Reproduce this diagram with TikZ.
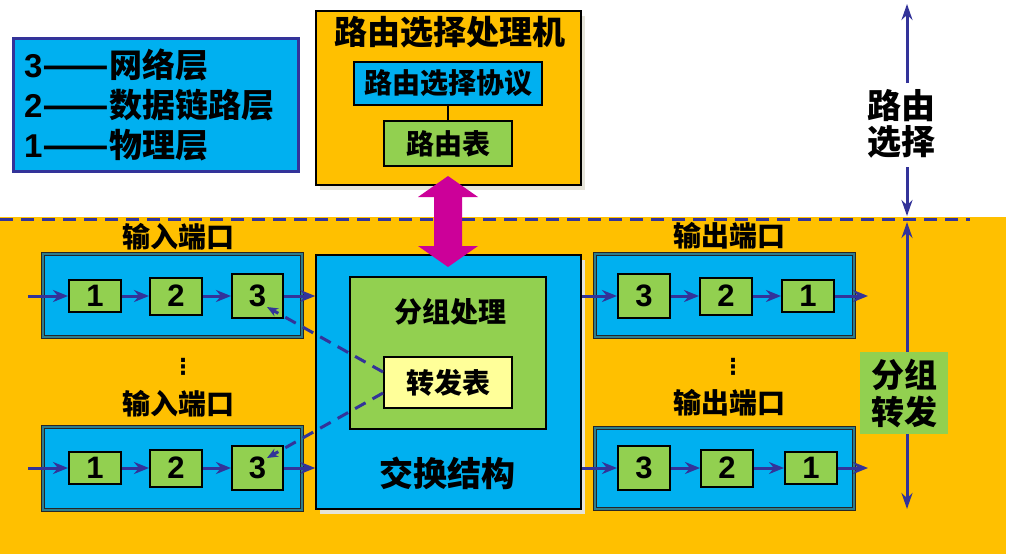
\documentclass[tikz,border=0pt]{standalone}
\usepackage{fontspec}
\usepackage{graphicx}
\setmainfont{Liberation Sans}
\newfontfamily\cjk{Noto Sans CJK SC}
\newfontfamily\dvs{DejaVu Sans}
\usetikzlibrary{arrows.meta,calc,shadows}
\definecolor{cyanb}{HTML}{00B0F0}
\definecolor{orng}{HTML}{FFC000}
\definecolor{grn}{HTML}{92D050}
\definecolor{dblue}{HTML}{333399}
\definecolor{mag}{HTML}{CC0099}
\definecolor{lyel}{HTML}{FFFF99}
\definecolor{shad}{HTML}{E6E4DA}
\definecolor{frm}{HTML}{2E7D8C}
\newcommand{\legdash}{\scalebox{1.18}[1]{\cjk ——}}
\begin{document}
\begin{tikzpicture}[x=1pt,y=-1pt,
  cjkfont/.style={font=\fontsize{#1}{#1}\selectfont\cjk\bfseries},
  lay/.style={draw=black, line width=2pt, fill=grn, inner sep=0pt,
    font=\fontsize{31}{31}\selectfont\bfseries},
  port/.style={fill=cyanb, draw=black!85, double=frm, double distance=1.6pt,
    line width=0.9pt, inner sep=0pt, minimum width=259, minimum height=83},
  flow/.style={dblue, line width=3pt, -{Stealth[length=15pt,width=12pt]}},
  vflow/.style={dblue, line width=3pt, -{Stealth[length=16pt,width=11pt]}},
  dflow/.style={dblue, line width=3pt, dash pattern=on 12pt off 8pt,
    -{Stealth[length=11pt,width=9pt]}},
  bigbox/.style={draw=black, line width=1.5pt, inner sep=0pt,
    drop shadow={shadow xshift=4pt, shadow yshift=-5pt, fill=shad, opacity=1}},
  ttl/.style={cjkfont=28, inner sep=0pt},
  dots/.style={font=\fontsize{22}{22}\selectfont\dvs\bfseries, inner sep=0pt}
]
\useasboundingbox (0,0) rectangle (1009,554);
\fill[white] (0,0) rectangle (1009,554);
% lower orange region and separator
\fill[orng] (0,217) rectangle (1006,554);
\draw[dblue, line width=3pt, dash pattern=on 13pt off 8pt] (0,219) -- (970,219);

% legend
\node[draw=dblue, line width=3pt, fill=cyanb, minimum width=285, minimum height=133, inner sep=0pt] (leg) at (155.5,104.5) {};
\node[anchor=west, align=left, inner sep=0pt, font=\fontsize{33}{40}\selectfont\bfseries] (legt) at (24,105)
  {3\legdash{\cjk 网络层}\\2\legdash{\cjk 数据链路层}\\1\legdash{\cjk 物理层}};

% routing processor
\node[bigbox, fill=orng, minimum width=265, minimum height=174] (rp) at (448.5,98) {};
\node[cjkfont=33, inner sep=0pt] (rpt) at (450,32) {路由选择处理机};
\node[draw=black, line width=2pt, fill=cyanb, minimum width=188, minimum height=43, inner sep=0pt, cjkfont=28] (proto) at (448,83.5) {路由选择协议};
\node[draw=black, line width=2pt, fill=grn, minimum width=128, minimum height=45, inner sep=0pt, cjkfont=28] (rtab) at (448,143.5) {路由表};
\draw[black, line width=2pt] (proto.south) -- (rtab.north);

% switch fabric
\node[bigbox, fill=cyanb, minimum width=265, minimum height=254] (fab) at (448.5,382) {};
\node[draw=black, line width=1.5pt, fill=grn, minimum width=196, minimum height=152, inner sep=0pt] (pp) at (448,353) {};
\node[ttl] (ppt) at (450,312) {分组处理};
\node[draw=black, line width=2pt, fill=lyel, minimum width=128, minimum height=51, inner sep=0pt, cjkfont=28] (fwd) at (448,382.5) {转发表};
\node[cjkfont=34, inner sep=0pt] (fabt) at (447,473) {交换结构};

% input ports
\node[port] (ip1) at (172.5,295.5) {};
\node[ttl] (ip1t) at (178,237) {输入端口};
\node[lay, minimum width=52, minimum height=32] (i1) at (95,296) {1};
\node[lay, minimum width=52, minimum height=37] (i2) at (176,296) {2};
\node[lay, minimum width=51, minimum height=44] (i3) at (257.5,296) {3};
\node[dots] (idots) at (183,367) {⋮};
\node[port] (ip2) at (172.5,468.5) {};
\node[ttl] (ip2t) at (178,404) {输入端口};
\node[lay, minimum width=52, minimum height=32] (j1) at (95,468) {1};
\node[lay, minimum width=52, minimum height=37] (j2) at (176,468) {2};
\node[lay, minimum width=51, minimum height=44] (j3) at (257.5,468) {3};

% output ports
\node[port] (op1) at (724.5,295.5) {};
\node[ttl] (op1t) at (729.5,236) {输出端口};
\node[lay, minimum width=52, minimum height=44] (o3) at (644,296) {3};
\node[lay, minimum width=52, minimum height=37] (o2) at (726,296) {2};
\node[lay, minimum width=52, minimum height=32] (o1) at (808,296) {1};
\node[dots] (odots) at (733,367) {⋮};
\node[port, minimum height=81] (op2) at (724.5,468.5) {};
\node[ttl] (op2t) at (729.5,403) {输出端口};
\node[lay, minimum width=52, minimum height=44] (p3) at (644,468) {3};
\node[lay, minimum width=52, minimum height=37] (p2) at (727,468) {2};
\node[lay, minimum width=52, minimum height=32] (p1) at (811,468) {1};

% flow arrows
\coordinate (in1) at (28,296);
\coordinate (in2) at (28,468);
\coordinate (out1) at (868,296);
\coordinate (out2) at (868,468);
\draw[flow] (in1) -- (i1.west);
\draw[flow] (i1.east) -- (i2.west);
\draw[flow] (i2.east) -- (i3.west);
\draw[flow] (i3.east) -- (i3.east -| fab.west);
\draw[flow] (in2) -- (j1.west);
\draw[flow] (j1.east) -- (j2.west);
\draw[flow] (j2.east) -- (j3.west);
\draw[flow] (j3.east) -- (j3.east -| fab.west);
\draw[flow] (o3.west -| fab.east) -- (o3.west);
\draw[flow] (o3.east) -- (o2.west);
\draw[flow] (o2.east) -- (o1.west);
\draw[flow] (o1.east) -- (out1);
\draw[flow] (p3.west -| fab.east) -- (p3.west);
\draw[flow] (p3.east) -- (p2.west);
\draw[flow] (p2.east) -- (p1.west);
\draw[flow] (p1.east) -- (out2);

% forwarding table lookups
\draw[dflow] ($(fwd.west)+(0,-10.5)$) -- ($(i3.center)+(9.5,11)$);
\draw[dflow] ($(fwd.west)+(0,10.5)$) -- ($(j3.center)+(9.5,-10)$);

% magenta double arrow between processor and fabric
\coordinate (mt) at (448,176);
\fill[mag] (mt) -- ++(30,21) -- ++(-16,0) -- ++(0,49) -- ++(16,0) -- (448,267)
  -- ++(-30,-21) -- ++(16,0) -- ++(0,-49) -- ++(-16,0) -- cycle;

% right side: routing / forwarding
\node[align=center, inner sep=0pt, font=\fontsize{34}{36}\selectfont\cjk\bfseries] (rl) at (901,124) {路由\\选择};
\coordinate (rt) at (907,4);
\coordinate (rb) at (907,216);
\coordinate (g1) at (907,83);
\coordinate (g2) at (907,167);
\draw[vflow] (g1) -- (rt);
\draw[vflow] (g2) -- (rb);
\node[fill=grn, minimum width=88, minimum height=82, align=center, inner sep=0pt, font=\fontsize{33}{37}\selectfont\cjk\bfseries] (fl) at (904,393) {分组\\转发};
\coordinate (ft) at (907,222);
\coordinate (fb) at (907,509);
\draw[vflow] (fl.north -| ft) -- (ft);
\draw[vflow] (fl.south -| fb) -- (fb);
\end{tikzpicture}
\end{document}
